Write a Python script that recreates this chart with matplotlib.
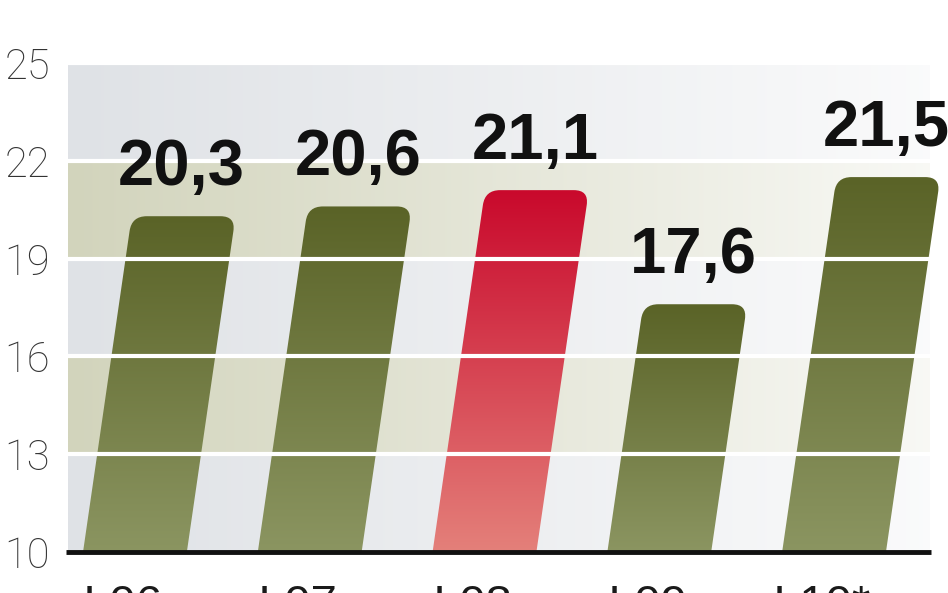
import numpy as np
import matplotlib
matplotlib.use('Agg')
import matplotlib.pyplot as plt
from matplotlib.path import Path
from matplotlib.patches import PathPatch
from matplotlib.colors import to_rgb

categories = ['I 06', 'I 07', 'I 08', 'I 09', 'I 10*']
values = [20.3, 20.6, 21.1, 17.6, 21.5]
value_labels = ['20,3', '20,6', '21,1', '17,6', '21,5']
highlight = [False, False, True, False, False]
yticks = [10, 13, 16, 19, 22, 25]

OLIVE_TOP, OLIVE_BOT = '#5a6327', '#8b9561'
RED_TOP, RED_BOT = '#c9092c', '#e4807a'
BAND_A = '#dfe2e6'   # greyish
BAND_B = '#d2d4bc'   # olive tint

fig = plt.figure(figsize=(9.48, 5.93), dpi=100)
ax = fig.add_axes([68/948, 1-552/593, 880/948, 489/593])
XMIN, XMAX = -0.383, 4.652
ax.set_xlim(XMIN, XMAX)
ax.set_ylim(10, 25)
ax.set_autoscale_on(False)
for s in ax.spines.values():
    s.set_visible(False)

def px2x(px):
    return XMIN + (px - 68) / 880 * (XMAX - XMIN)

# background bands with horizontal fade to white
bg_right = px2x(930)
ny, nx = 600, 400
ys = np.linspace(10, 25, ny)
xs = np.linspace(0, 1, nx)
img = np.ones((ny, nx, 3))
ca, cb = np.array(to_rgb(BAND_A)), np.array(to_rgb(BAND_B))
for k in range(len(yticks) - 1):
    lo, hi = yticks[k], yticks[k+1]
    mask = (ys >= lo) & (ys <= hi)
    col = cb if k % 2 == 1 else ca
    fade = (0.85 * xs)[:, None]
    rowcol = col[None, :] * (1 - fade) + np.ones(3)[None, :] * fade
    img[mask] = rowcol[None, :, :]
ax.imshow(img, extent=[XMIN, bg_right, 10, 25], origin='lower', aspect='auto',
          zorder=0, interpolation='bilinear')

# bars: slanted with rounded top corners
width = 0.594
slant = 0.02705
radius = 15.0
inv = ax.transData.inverted()
for i, (v, hl) in enumerate(zip(values, highlight)):
    bl = np.array([i - width/2, 10])
    br = np.array([i + width/2, 10])
    tr = np.array([i + width/2 + slant*(v-10), v])
    tl = np.array([i - width/2 + slant*(v-10), v])
    BL, BR, TR, TL = ax.transData.transform([bl, br, tr, tl])
    def toward(a, b, d):
        u = (b - a) / np.linalg.norm(b - a)
        return a + u * d
    p1 = toward(TL, BL, radius)
    p2 = toward(TL, TR, radius)
    p3 = toward(TR, TL, radius)
    p4 = toward(TR, BR, radius)
    verts = [BL, p1, TL, p2, p3, TR, p4, BR, BL]
    codes = [Path.MOVETO, Path.LINETO, Path.CURVE3, Path.CURVE3, Path.LINETO,
             Path.CURVE3, Path.CURVE3, Path.LINETO, Path.CLOSEPOLY]
    dverts = inv.transform(np.array(verts))
    path = Path(dverts, codes)
    patch = PathPatch(path, facecolor='none', edgecolor='none', zorder=2)
    ax.add_patch(patch)
    ctop, cbot = (RED_TOP, RED_BOT) if hl else (OLIVE_TOP, OLIVE_BOT)
    t = np.linspace(0, 1, 256)[:, None]
    grad = np.array(to_rgb(cbot))[None, :] * (1 - t) + np.array(to_rgb(ctop))[None, :] * t
    grad = grad[:, None, :]
    im = ax.imshow(grad, extent=[bl[0] - 0.01, tr[0] + 0.01, 10, v], origin='lower',
                   aspect='auto', zorder=2, interpolation='bilinear')
    im.set_clip_path(patch)
    # value label
    ax.annotate(value_labels[i], xy=((tl[0] + tr[0]) / 2, v), xytext=(-2*0.72, 31*0.72),
                textcoords='offset points', ha='center', va='baseline',
                fontsize=47, fontweight='bold', family='Liberation Sans',
                color='#111111', zorder=5)
    # category label (cut off at the bottom edge, as in the reference)
    ax.annotate(categories[i], xy=(i, 10), xytext=(-12*0.72, -32*0.72),
                textcoords='offset points', ha='center', va='top',
                fontsize=34, family='Liberation Sans', color='#1a1a1a',
                annotation_clip=False)

# white gridlines over bars
ax.hlines(yticks[1:], XMIN, px2x(935), colors='white', lw=3.0, zorder=3)
# baseline
ax.hlines([10], px2x(66), px2x(931), colors='#111111', lw=3.5, zorder=6, clip_on=False)

ax.set_xticks([])
ax.set_yticks(yticks)
ax.set_yticklabels([str(y) for y in yticks], family='Roboto', fontweight='light',
                   fontsize=30, color='#333333')
ax.tick_params(axis='y', length=0, pad=13)

fig.savefig('out.png', dpi=100)
